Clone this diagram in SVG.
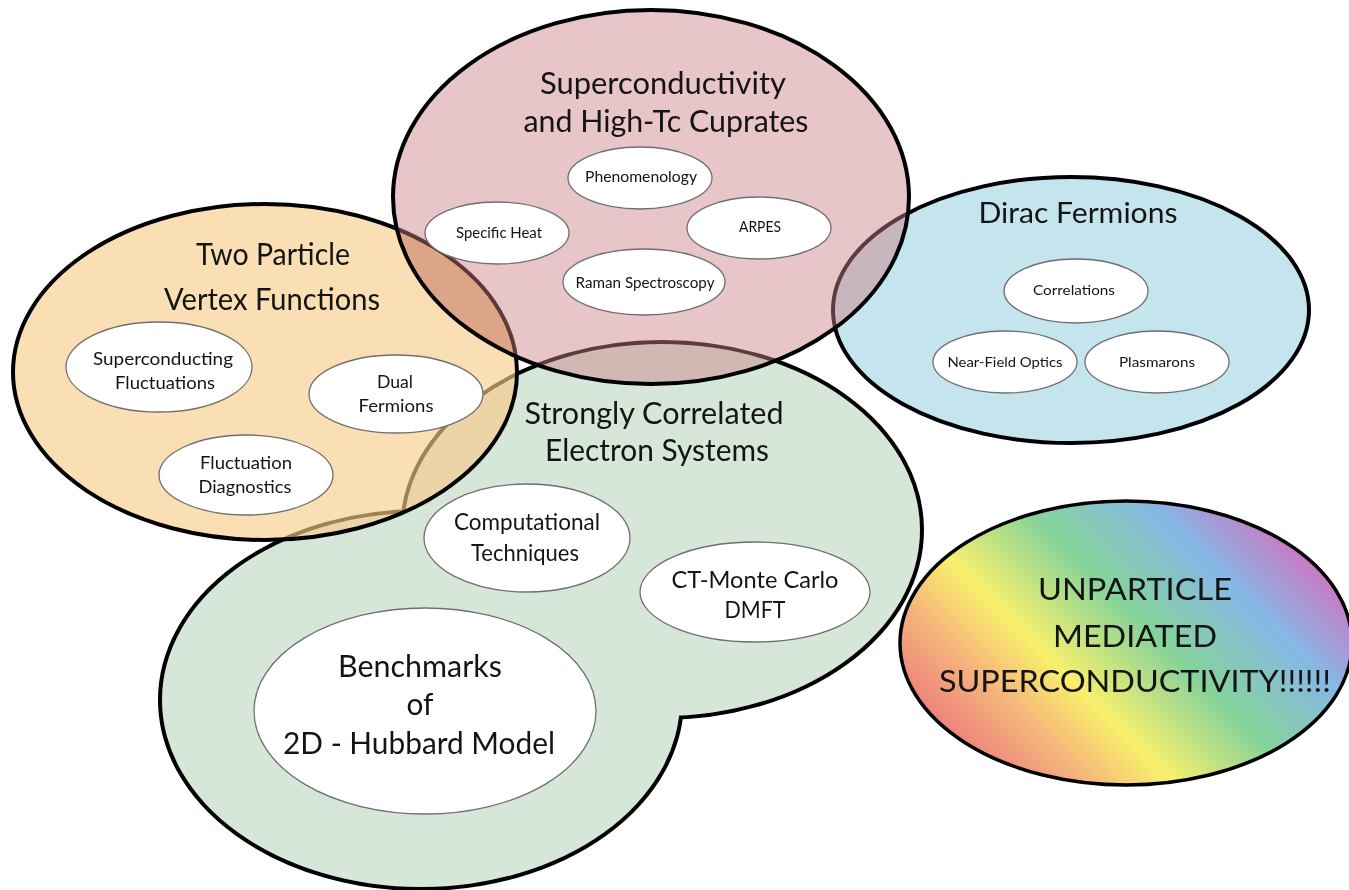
<svg xmlns="http://www.w3.org/2000/svg" width="1349" height="890" viewBox="0 0 1349 890">
<style>
.t{font-family:Lato,"Open Sans","Liberation Sans",sans-serif;fill:#141414;text-anchor:middle;}
.big{font-size:31px;}
.mid{font-size:18px;}
.sm{font-size:14.5px;}
.in{fill:#ffffff;stroke:#6f6f6f;stroke-width:1.3;}
.ol{fill:none;stroke:#000;stroke-width:4;}
.mul{mix-blend-mode:multiply;}
</style>
<defs>
<clipPath id="clipP"><ellipse cx="651" cy="197" rx="258" ry="187"/></clipPath>
<mask id="mOutG" maskUnits="userSpaceOnUse" x="0" y="0" width="1349" height="890">
<rect x="0" y="0" width="1349" height="890" fill="#fff"/>
<ellipse cx="662" cy="530" rx="258" ry="186" fill="#000"/>
<ellipse cx="421" cy="700" rx="259" ry="187" fill="#000"/>
</mask>
<linearGradient id="rainbow" gradientUnits="userSpaceOnUse" x1="1000" y1="800" x2="1280" y2="520">
<stop offset="0" stop-color="#ec7a7c"/>
<stop offset="0.18" stop-color="#f5b27c"/>
<stop offset="0.34" stop-color="#f8f06c"/>
<stop offset="0.57" stop-color="#86d39a"/>
<stop offset="0.8" stop-color="#86b8e6"/>
<stop offset="0.97" stop-color="#c67cc6"/>
</linearGradient>
</defs>
<rect x="0" y="0" width="1349" height="890" fill="#fff"/>

<g id="dirac-fermions">
<ellipse class="ol" cx="1071" cy="310" rx="238" ry="133" fill="#c4e4ee" style="fill:#c4e4ee"/>
<text class="t" x="1078" y="223" font-size="29" textLength="199" lengthAdjust="spacingAndGlyphs">Dirac Fermions</text>
<g id="correlations"><ellipse class="in" cx="1076" cy="291" rx="72" ry="32"/><text class="t" x="1074" y="295" font-size="14" textLength="82" lengthAdjust="spacingAndGlyphs">Correlations</text></g>
<g id="near-field-optics"><ellipse class="in" cx="1005" cy="362" rx="72" ry="31"/><text class="t" x="1005" y="367" font-size="14" textLength="115" lengthAdjust="spacingAndGlyphs">Near-Field Optics</text></g>
<g id="plasmarons"><ellipse class="in" cx="1157" cy="362" rx="72" ry="31"/><text class="t" x="1157" y="367" font-size="14" textLength="76" lengthAdjust="spacingAndGlyphs">Plasmarons</text></g>
</g>

<g id="strongly-correlated">
<ellipse cx="662" cy="530" rx="258" ry="186" fill="#d6e7d9"/>
<ellipse cx="421" cy="700" rx="259" ry="187" fill="#d6e7d9"/>
<g mask="url(#mOutG)">
<ellipse cx="662" cy="530" rx="258" ry="186" fill="none" stroke="#000" stroke-width="8"/>
<ellipse cx="421" cy="700" rx="259" ry="187" fill="none" stroke="#000" stroke-width="8"/>
</g>
<text class="t" x="654" y="424" font-size="30" textLength="259" lengthAdjust="spacingAndGlyphs">Strongly Correlated</text>
<text class="t" x="657" y="461" font-size="30" textLength="224" lengthAdjust="spacingAndGlyphs">Electron Systems</text>
<g id="computational-techniques"><ellipse class="in" cx="527" cy="538" rx="103" ry="54"/>
<text class="t" x="527" y="530" font-size="22.5" textLength="146" lengthAdjust="spacingAndGlyphs">Computational</text>
<text class="t" x="525" y="561" font-size="22.5" textLength="108" lengthAdjust="spacingAndGlyphs">Techniques</text></g>
<g id="ct-monte-carlo"><ellipse class="in" cx="755" cy="592" rx="115" ry="50"/>
<text class="t" x="755" y="588" font-size="22.5" textLength="167" lengthAdjust="spacingAndGlyphs">CT-Monte Carlo</text>
<text class="t" x="755" y="618" font-size="22.5" textLength="61" lengthAdjust="spacingAndGlyphs">DMFT</text></g>
<g id="benchmarks"><ellipse class="in" cx="425" cy="711" rx="171" ry="103"/>
<text class="t" x="420" y="677" font-size="30" textLength="164" lengthAdjust="spacingAndGlyphs">Benchmarks</text>
<text class="t" x="420" y="715" font-size="30" textLength="27" lengthAdjust="spacingAndGlyphs">of</text>
<text class="t" x="419" y="754" font-size="30" textLength="272" lengthAdjust="spacingAndGlyphs">2D - Hubbard Model</text></g>
</g>

<g id="two-particle">
<ellipse cx="265" cy="372" rx="252" ry="168" fill="rgb(247,203,138)" fill-opacity="0.64"/>
<ellipse class="ol" cx="265" cy="372" rx="252" ry="168"/>
<text class="t big" x="273" y="265" textLength="154" lengthAdjust="spacingAndGlyphs">Two Particle</text>
<text class="t big" x="272" y="310" textLength="216" lengthAdjust="spacingAndGlyphs">Vertex Functions</text>
<g id="sc-fluctuations"><ellipse class="in" cx="159" cy="367" rx="93" ry="45"/>
<text class="t mid" x="163" y="365" textLength="140" lengthAdjust="spacingAndGlyphs">Superconducting</text>
<text class="t mid" x="165" y="389" textLength="100" lengthAdjust="spacingAndGlyphs">Fluctuations</text></g>
<g id="dual-fermions"><ellipse class="in" cx="396" cy="394" rx="87" ry="39"/>
<text class="t mid" x="395" y="388" textLength="36" lengthAdjust="spacingAndGlyphs">Dual</text>
<text class="t mid" x="396" y="412" textLength="75" lengthAdjust="spacingAndGlyphs">Fermions</text></g>
<g id="fluctuation-diagnostics"><ellipse class="in" cx="246" cy="475" rx="87" ry="40"/>
<text class="t mid" x="246" y="469" textLength="92" lengthAdjust="spacingAndGlyphs">Fluctuation</text>
<text class="t mid" x="245" y="493" textLength="93" lengthAdjust="spacingAndGlyphs">Diagnostics</text></g>
</g>

<g id="superconductivity">
<ellipse cx="651" cy="197" rx="258" ry="187" fill="rgb(205,129,135)" fill-opacity="0.46"/>
<ellipse class="mul" cx="265" cy="372" rx="252" ry="168" fill="#f7ebd9" clip-path="url(#clipP)"/>
<ellipse class="ol" cx="651" cy="197" rx="258" ry="187"/>
<text class="t big" x="663" y="94" textLength="246" lengthAdjust="spacingAndGlyphs">Superconductivity</text>
<text class="t big" x="666" y="132" textLength="285" lengthAdjust="spacingAndGlyphs">and High-Tc Cuprates</text>
<g id="phenomenology"><ellipse class="in" cx="640" cy="178" rx="72" ry="31"/><text class="t sm" x="641" y="182" textLength="112" lengthAdjust="spacingAndGlyphs">Phenomenology</text></g>
<g id="specific-heat"><ellipse class="in" cx="497" cy="233" rx="72" ry="31"/><text class="t sm" x="499" y="238" textLength="86" lengthAdjust="spacingAndGlyphs">Specific Heat</text></g>
<g id="arpes"><ellipse class="in" cx="759" cy="228" rx="72" ry="31"/><text class="t sm" x="760" y="232" textLength="42" lengthAdjust="spacingAndGlyphs">ARPES</text></g>
<g id="raman"><ellipse class="in" cx="644" cy="282" rx="81" ry="33"/><text class="t sm" x="645" y="288" textLength="139" lengthAdjust="spacingAndGlyphs">Raman Spectroscopy</text></g>
</g>

<g id="unparticle">
<ellipse cx="1126" cy="643" rx="226" ry="142" fill="url(#rainbow)" stroke="#000" stroke-width="3.5"/>
<text class="t" x="1135" y="600" font-size="30" textLength="194" lengthAdjust="spacingAndGlyphs">UNPARTICLE</text>
<text class="t" x="1135" y="647" font-size="30" textLength="164" lengthAdjust="spacingAndGlyphs">MEDIATED</text>
<text class="t" x="1135" y="692" font-size="30" textLength="392" lengthAdjust="spacingAndGlyphs">SUPERCONDUCTIVITY!!!!!!</text>
</g>

<g id="connectors"></g>
</svg>
